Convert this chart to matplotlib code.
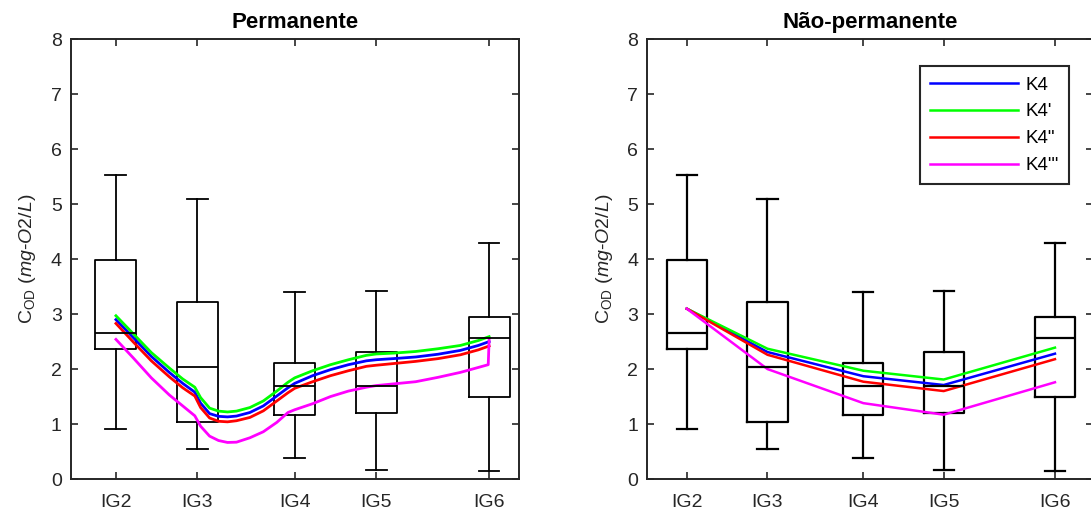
import matplotlib
matplotlib.use('Agg')
import matplotlib.pyplot as plt

plt.rcParams['font.family'] = ['Liberation Sans', 'DejaVu Sans']
plt.rcParams['mathtext.fontset'] = 'custom'
plt.rcParams['mathtext.rm'] = 'Liberation Sans'
plt.rcParams['mathtext.it'] = 'Liberation Sans:italic'

# estações (posição no eixo x) e estatísticas dos boxplots
estacoes = ['IG2', 'IG3', 'IG4', 'IG5', 'IG6']
pos = [10.0, 28.3, 50.0, 68.2, 93.4]
wlo = [0.91, 0.54, 0.38, 0.16, 0.14]
q1 = [2.36, 1.04, 1.17, 1.20, 1.50]
med = [2.65, 2.04, 1.69, 1.69, 2.56]
q3 = [3.98, 3.22, 2.11, 2.31, 2.95]
whi = [5.53, 5.10, 3.40, 3.42, 4.30]

# regime permanente (curvas)
x_perm = [10.1, 14, 18, 22, 25, 27.7, 29, 31, 33, 35, 37, 40, 43, 46, 48.5, 50,
          54, 58, 62, 66, 68.2, 72, 77, 82, 87, 91, 93.4]
k4_perm = [2.90, 2.57, 2.23, 1.94, 1.74, 1.58, 1.38, 1.19, 1.14, 1.13, 1.145, 1.21, 1.33, 1.51, 1.66, 1.74,
           1.88, 1.99, 2.08, 2.15, 2.17, 2.19, 2.22, 2.27, 2.34, 2.43, 2.50]
k4a_perm = [2.97, 2.64, 2.30, 2.02, 1.82, 1.67, 1.48, 1.29, 1.235, 1.22, 1.235, 1.30, 1.42, 1.60, 1.76, 1.84,
            1.97, 2.08, 2.17, 2.25, 2.275, 2.29, 2.32, 2.37, 2.43, 2.52, 2.59]
k4b_perm = [2.83, 2.49, 2.15, 1.86, 1.66, 1.51, 1.30, 1.11, 1.05, 1.04, 1.06, 1.12, 1.24, 1.42, 1.57, 1.65,
            1.77, 1.88, 1.97, 2.05, 2.07, 2.10, 2.14, 2.19, 2.26, 2.35, 2.42]
x_perm_c = [10.1, 14, 18, 22, 25, 27.7, 29, 31, 33, 35, 37, 40, 43, 46, 48.5, 50,
            54, 58, 62, 66, 68.2, 72, 77, 82, 87, 91, 93.2, 93.4]
k4c_perm = [2.54, 2.20, 1.84, 1.53, 1.33, 1.15, 0.96, 0.78, 0.70, 0.665, 0.67, 0.75, 0.86, 1.03, 1.21, 1.26,
            1.37, 1.50, 1.60, 1.67, 1.70, 1.73, 1.77, 1.85, 1.94, 2.03, 2.08, 2.54]

# regime não-permanente
k4_np = [3.10, 2.31, 1.87, 1.71, 2.28]
k4a_np = [3.10, 2.37, 1.97, 1.81, 2.39]
k4b_np = [3.10, 2.26, 1.77, 1.60, 2.18]
k4c_np = [3.10, 2.00, 1.38, 1.17, 1.76]

nomes = ['K4', "K4'", 'K4"', "K4'''"]
cores = ['#0000ff', '#00ff00', '#ff0000', '#ff00ff']

fig = plt.figure(figsize=(10.91, 5.13), dpi=100)
ax1 = fig.add_axes([70.7 / 1091, 34 / 513, 448 / 1091, 439.7 / 513])
ax2 = fig.add_axes([647.3 / 1091, 34 / 513, 446 / 1091, 439.7 / 513])

stats = []
for i in range(len(estacoes)):
    stats.append({'med': med[i], 'q1': q1[i], 'q3': q3[i],
                  'whislo': wlo[i], 'whishi': whi[i], 'fliers': []})


def caixa(ax, lw):
    ax.bxp(stats, positions=pos, widths=9.1, capwidths=4.6, showfliers=False,
           boxprops=dict(color='black', linewidth=lw),
           medianprops=dict(color='black', linewidth=lw),
           whiskerprops=dict(color='black', linewidth=lw, linestyle='-'),
           capprops=dict(color='black', linewidth=lw))


def estilo(ax, titulo):
    ax.set_ylim(0, 8)
    ax.set_yticks(range(0, 9))
    ax.set_xticks(pos)
    ax.set_xticklabels(estacoes)
    ax.tick_params(axis='both', direction='in', top=True, right=True, length=5, width=1.2,
                   color='#262626', labelcolor='#262626', labelsize=14)
    ax.tick_params(axis='y', pad=6.5)
    ax.tick_params(axis='x', pad=11)
    for s in ax.spines.values():
        s.set_linewidth(1.4)
        s.set_color('#262626')
    ax.set_title(titulo, fontsize=16, fontweight='bold', pad=8)
    ax.set_ylabel(r'C$_\mathrm{OD}$ $\mathit{(mg}$-$\mathit{O2/L)}$', fontsize=14, color='#262626')
    ax.yaxis.set_label_coords(-0.073, 0.5)


caixa(ax1, 1.3)
ax1.plot(x_perm, k4_perm, color=cores[0], lw=2)
ax1.plot(x_perm, k4a_perm, color=cores[1], lw=2)
ax1.plot(x_perm, k4b_perm, color=cores[2], lw=2)
ax1.plot(x_perm_c, k4c_perm, color=cores[3], lw=2)
ax1.set_xlim(0, 100)
estilo(ax1, 'Permanente')

caixa(ax2, 1.6)
linhas = []
for serie, cor, nome in zip([k4_np, k4a_np, k4b_np, k4c_np], cores, nomes):
    l, = ax2.plot(pos, serie, color=cor, lw=1.8, label=nome)
    linhas.append(l)
ax2.set_xlim(1.08, 102.08)
estilo(ax2, 'Não-permanente')

leg = ax2.legend(handles=linhas, loc='upper left', bbox_to_anchor=(0.611, 0.939),
                 fontsize=13.5, handlelength=4.7, handletextpad=0.4, borderpad=0.55,
                 labelspacing=0.52, fancybox=False, framealpha=1, borderaxespad=0)
leg.get_frame().set_edgecolor('#262626')
leg.get_frame().set_linewidth(1.5)

fig.savefig('out.png', dpi=100)
